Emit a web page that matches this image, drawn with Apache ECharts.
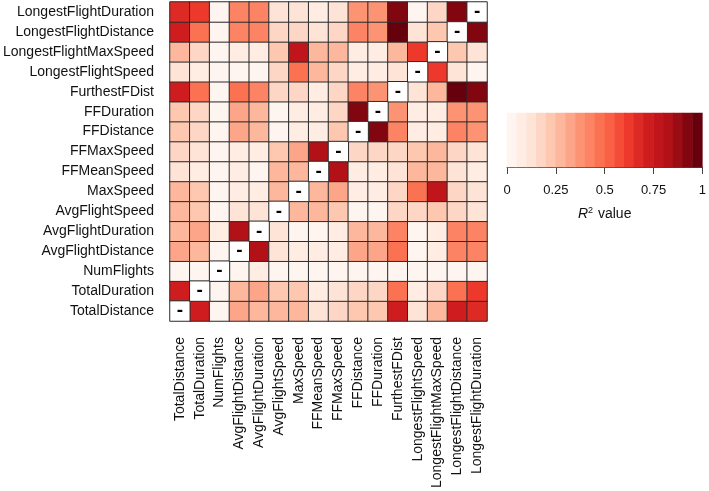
<!DOCTYPE html>
<html>
<head>
<meta charset="utf-8">
<script src="https://cdn.jsdelivr.net/npm/echarts@6/dist/echarts.min.js"></script>
<style>
  html, body { margin: 0; padding: 0; background: #fff; }
  #chart { width: 709px; height: 491px; }
</style>
</head>
<body>
<div id="chart"></div>
<script>
// variable names, same order on both axes (y goes bottom -> top)
var vars = ['TotalDistance', 'TotalDuration', 'NumFlights', 'AvgFlightDistance', 'AvgFlightDuration',
  'AvgFlightSpeed', 'MaxSpeed', 'FFMeanSpeed', 'FFMaxSpeed', 'FFDistance', 'FFDuration',
  'FurthestFDist', 'LongestFlightSpeed', 'LongestFlightMaxSpeed', 'LongestFlightDistance',
  'LongestFlightDuration'];

// R^2 values, row i = vars[i], column j = vars[j]; null on the diagonal
var r2 = [
  [null, 0.72, 0.03, 0.32, 0.30, 0.28, 0.30, 0.13, 0.18, 0.23, 0.23, 0.72, 0.13, 0.28, 0.72, 0.68],
  [0.72, null, 0.03, 0.29, 0.32, 0.22, 0.23, 0.08, 0.15, 0.19, 0.19, 0.47, 0.07, 0.18, 0.47, 0.62],
  [0.03, 0.03, null, 0.04, 0.07, 0.05, 0.04, 0.04, 0.04, 0.04, 0.03, 0.04, 0.03, 0.03, 0.03, 0.03],
  [0.32, 0.29, 0.04, null, 0.85, 0.14, 0.07, 0.06, 0.08, 0.31, 0.31, 0.46, 0.05, 0.07, 0.44, 0.44],
  [0.30, 0.32, 0.07, 0.85, null, 0.13, 0.05, 0.05, 0.07, 0.29, 0.29, 0.41, 0.04, 0.06, 0.41, 0.41],
  [0.28, 0.22, 0.05, 0.14, 0.13, null, 0.30, 0.28, 0.23, 0.05, 0.03, 0.16, 0.20, 0.21, 0.16, 0.13],
  [0.30, 0.23, 0.04, 0.07, 0.06, 0.30, null, 0.28, 0.33, 0.08, 0.08, 0.18, 0.46, 0.79, 0.17, 0.12],
  [0.13, 0.08, 0.04, 0.06, 0.05, 0.28, 0.28, null, 0.82, 0.09, 0.07, 0.11, 0.28, 0.27, 0.12, 0.08],
  [0.18, 0.15, 0.04, 0.08, 0.07, 0.23, 0.33, 0.83, null, 0.20, 0.20, 0.18, 0.22, 0.29, 0.17, 0.12],
  [0.23, 0.19, 0.04, 0.31, 0.29, 0.05, 0.09, 0.08, 0.21, null, 0.92, 0.44, 0.07, 0.10, 0.44, 0.38],
  [0.23, 0.19, 0.03, 0.31, 0.29, 0.03, 0.08, 0.07, 0.20, 0.92, null, 0.39, 0.06, 0.08, 0.38, 0.37],
  [0.72, 0.47, 0.04, 0.46, 0.41, 0.17, 0.17, 0.10, 0.17, 0.44, 0.39, null, 0.13, 0.26, 0.97, 0.93],
  [0.13, 0.07, 0.03, 0.05, 0.04, 0.20, 0.46, 0.27, 0.20, 0.07, 0.06, 0.13, null, 0.62, 0.12, 0.05],
  [0.28, 0.18, 0.03, 0.07, 0.06, 0.21, 0.79, 0.27, 0.29, 0.10, 0.08, 0.26, 0.62, null, 0.25, 0.15],
  [0.72, 0.47, 0.03, 0.44, 0.41, 0.17, 0.17, 0.12, 0.16, 0.44, 0.39, 0.97, 0.11, 0.25, null, 0.93],
  [0.68, 0.62, 0.03, 0.44, 0.41, 0.13, 0.13, 0.10, 0.11, 0.38, 0.37, 0.93, 0.04, 0.17, 0.93, null]
];

// colour key: one swatch per 0.05 band
var keyBins = [0.025, 0.075, 0.125, 0.175, 0.225, 0.275, 0.325, 0.375, 0.425, 0.475,
  0.525, 0.575, 0.625, 0.675, 0.725, 0.775, 0.825, 0.875, 0.925, 0.975];
var keyTicks = [0, 0.25, 0.5, 0.75, 1];

// Reds palette, 20 steps
var reds = ['#FFF5F0', '#FFECE3', '#FEE3D7', '#FDD6C5', '#FDC7B0', '#FCB79C', '#FCA588', '#FC9474',
  '#FC8363', '#FB7252', '#F96044', '#F54C37', '#ED392B', '#DE2A25', '#CF1C1F', '#BF151B',
  '#B11117', '#9B0D14', '#810610', '#67000D'];

var font = 'Liberation Sans, Arial, sans-serif';

var cells = [], diag = [];
r2.forEach(function (row, i) {
  row.forEach(function (v, j) {
    if (v === null) diag.push([j, i, 0]);
    else cells.push([j, i, v]);
  });
});

var chart = echarts.init(document.getElementById('chart'));
chart.setOption({
  animation: false,
  textStyle: { fontFamily: font },
  grid: [
    { left: 166, top: 2, width: 321, height: 320 },
    { left: 507, top: 113, width: 200, height: 54 }
  ],
  xAxis: [
    {
      type: 'category', gridIndex: 0, data: vars,
      axisLine: { show: false },
      axisTick: { alignWithLabel: true, length: 8, lineStyle: { color: '#555' } },
      axisLabel: { rotate: 90, interval: 0, margin: 16, fontSize: 14, color: '#111', fontFamily: font },
      splitLine: { show: false }
    },
    {
      type: 'category', gridIndex: 1, data: keyBins, show: false
    },
    {
      type: 'value', gridIndex: 1, min: 0, max: 1, interval: 0.25, position: 'bottom',
      axisLine: { show: true, lineStyle: { color: '#444' } },
      axisTick: { show: true, length: 7, lineStyle: { color: '#444' } },
      axisLabel: { margin: 17, fontSize: 13, color: '#111', fontFamily: font,
        formatter: function (v) { return keyTicks.indexOf(v) >= 0 ? String(v) : ''; } },
      splitLine: { show: false },
      name: '{i|R}{s|2} value', nameLocation: 'middle', nameGap: 39,
      nameTextStyle: {
        fontSize: 14, color: '#111', fontFamily: font,
        rich: {
          i: { fontStyle: 'italic', fontSize: 14, fontFamily: font, color: '#111' },
          s: { fontSize: 9, fontFamily: font, color: '#111', padding: [0, 1, 7, 0] }
        }
      }
    }
  ],
  yAxis: [
    {
      type: 'category', gridIndex: 0, data: vars,
      axisLine: { show: false },
      axisTick: { alignWithLabel: true, length: 8, lineStyle: { color: '#555' } },
      axisLabel: { interval: 0, margin: 16, fontSize: 14, color: '#111', fontFamily: font },
      splitLine: { show: false }
    },
    { type: 'category', gridIndex: 1, data: ['R2'], show: false }
  ],
  visualMap: {
    type: 'piecewise', show: false, min: 0, max: 1, splitNumber: 20,
    dimension: 2, seriesIndex: [0, 2],
    inRange: { color: reds }
  },
  series: [
    {
      type: 'heatmap', xAxisIndex: 0, yAxisIndex: 0, data: cells,
      itemStyle: { borderColor: '#2a2a2a', borderWidth: 1 },
      emphasis: { disabled: true }
    },
    {
      type: 'heatmap', xAxisIndex: 0, yAxisIndex: 0, data: diag,
      itemStyle: { color: '#ffffff', borderColor: '#2a2a2a', borderWidth: 1 },
      label: { show: true, formatter: '-', fontSize: 19, fontWeight: 'bold', color: '#000', fontFamily: font },
      emphasis: { disabled: true }
    },
    {
      type: 'heatmap', xAxisIndex: 1, yAxisIndex: 1,
      data: keyBins.map(function (b, i) { return [i, 0, b]; }),
      emphasis: { disabled: true }
    }
  ]
});
</script>
</body>
</html>
